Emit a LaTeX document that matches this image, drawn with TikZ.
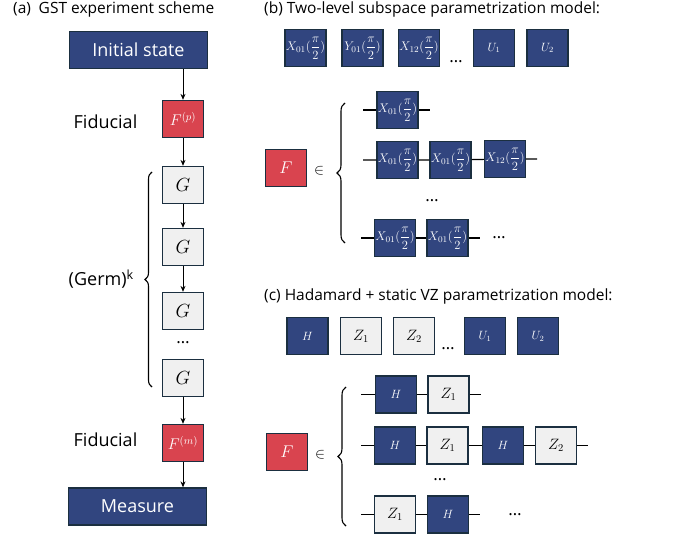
\RequirePackage{fix-cm}
\documentclass[tikz,border=0pt]{standalone}
\usepackage{amsmath}
\usepackage[no-math]{fontspec}
\setmainfont{Open Sans}
\usetikzlibrary{arrows.meta,decorations.pathreplacing}
\definecolor{navy}{HTML}{31457F}
\definecolor{gatered}{HTML}{D9444F}
\definecolor{gatelight}{HTML}{F0F0F0}
\definecolor{edgecol}{HTML}{1B2F40}
\begin{document}
\begin{tikzpicture}[x=1pt,y=-1pt,
  gate/.style={draw=edgecol, line width=1.3pt, minimum width=41pt, minimum height=37pt, inner sep=0pt, font=\fontsize{12}{13}\selectfont},
  bgate/.style={gate, fill=navy, text=white},
  lgate/.style={gate, fill=gatelight, text=black, font=\fontsize{15}{16}\selectfont},
  rgate/.style={gate, fill=gatered, text=white, font=\fontsize{17}{18}\selectfont},
  xgate/.style={bgate, font=\fontsize{12.5}{14}\selectfont},
  ggate/.style={lgate, font=\fontsize{19}{21}\selectfont},
  fgate/.style={rgate, font=\fontsize{15.5}{17}\selectfont},
  bigbox/.style={draw=edgecol, line width=1.3pt, fill=navy, text=white, minimum width=138pt, minimum height=37pt, inner sep=0pt, font=\fontsize{18}{20}\selectfont},
  wire/.style={line width=1.2pt},
  arr/.style={-{Stealth[length=6pt,width=5pt]}, line width=1pt},
  title/.style={anchor=base west, font=\fontsize{15.5}{18}\selectfont, inner sep=0pt},
  lbl/.style={font=\fontsize{18}{20}\selectfont, inner sep=0pt},
  dotsn/.style={font=\fontsize{17}{17}\selectfont, inner sep=0pt},
  brc/.style={decorate, decoration={brace, amplitude=8pt}, line width=1.1pt},
  elem/.style={font=\fontsize{15}{16}\selectfont, inner sep=0pt}
]
\useasboundingbox (0,0) rectangle (678,535);

% ---------------- panel (a)
\node[title] (ta) at (13,14) {(a)\enspace GST experiment scheme};
\node[bigbox] (init) at (138.5,50) {Initial state};
\node[fgate] (fp) at (183,119) {$F^{(p)}$};
\node[lbl] (fid1) at (105.5,122) {Fiducial};
\node[ggate] (g1) at (183,185) {$G$};
\node[ggate] (g2) at (183,247) {$G$};
\node[ggate] (g3) at (183,311) {$G$};
\node[dotsn] (gd) at (183,343) {…};
\node[ggate] (g4) at (183,378) {$G$};
\node[fgate] (fm) at (183,443) {$F^{(m)}$};
\node[lbl] (fid2) at (105.5,440) {Fiducial};
\node[bigbox] (meas) at (137.5,506.5) {Measure};
\draw[arr] (init.south -| fp) -- (fp.north);
\draw[arr] (fp) -- (g1);
\draw[arr] (g1) -- (g2);
\draw[arr] (g2) -- (g3);
\draw[arr] (g4) -- (fm);
\draw[arr] (fm) -- (meas.north -| fm);
\coordinate (bra1) at (152,387);
\coordinate (bra2) at (152,172);
\draw[brc, decoration={amplitude=7pt}] (bra1) -- (bra2);
\node[lbl, anchor=east] (germ) at (134,279) {(Germ)\textsuperscript{k}};

% ---------------- panel (b)
\node[title] (tb) at (264,14) {(b) Two-level subspace parametrization model:};
\node[xgate] (b1) at (305.5,48) {$X_{01}(\dfrac{\pi}{2})$};
\node[xgate] (b2) at (362.5,48) {$Y_{01}(\dfrac{\pi}{2})$};
\node[xgate] (b3) at (419,48) {$X_{12}(\dfrac{\pi}{2})$};
\node[dotsn] (bd) at (456,62) {…};
\node[bgate] (b4) at (494,48) {$U_1$};
\node[bgate] (b5) at (547.5,48) {$U_2$};

\node[rgate] (bF) at (286,168) {$F$};
\node[elem] (bin) at (319,171) {$\in$};
\coordinate (bb1) at (345,243);
\coordinate (bb2) at (345,103);
\draw[brc] (bb1) -- (bb2);

\coordinate (bs1) at (363,110);
\node[xgate] (bx11) at (397.5,110) {$X_{01}(\dfrac{\pi}{2})$};
\coordinate (be1) at (430,110);
\draw[wire] (bs1) -- (bx11) -- (be1);

\coordinate (bs2) at (363,160);
\node[xgate] (bx21) at (397.5,160) {$X_{01}(\dfrac{\pi}{2})$};
\node[xgate] (bx22) at (450.5,160) {$X_{01}(\dfrac{\pi}{2})$};
\node[xgate] (bx23) at (505,159) {$X_{12}(\dfrac{\pi}{2})$};
\coordinate (be2) at (537,159);
\draw[wire] (bs2) -- (bx21) -- (bx22) -- (bx23) -- (be2);

\node[dotsn] (bvd) at (432,201) {…};

\coordinate (bs3) at (361,238);
\node[xgate] (bx31) at (395,238) {$X_{01}(\dfrac{\pi}{2})$};
\node[xgate] (bx32) at (447.5,238) {$X_{01}(\dfrac{\pi}{2})$};
\coordinate (be3) at (480,238);
\draw[wire] (bs3) -- (bx31) -- (bx32) -- (be3);
\node[dotsn] (bhd) at (499,238) {…};

% ---------------- panel (c)
\node[title] (tc) at (264,300) {(c) Hadamard + static VZ parametrization model:};
\node[bgate] (c1) at (307.5,336) {$H$};
\node[lgate] (c2) at (361,336) {$Z_1$};
\node[lgate] (c3) at (414,336) {$Z_2$};
\node[dotsn] (cd) at (448,349) {…};
\node[bgate] (c4) at (485,336) {$U_1$};
\node[bgate] (c5) at (538,336) {$U_2$};

\node[rgate] (cF) at (287,452) {$F$};
\node[elem] (cin) at (320,455) {$\in$};
\coordinate (cb1) at (346,526);
\coordinate (cb2) at (346,387);
\draw[brc] (cb1) -- (cb2);

\coordinate (cs1) at (361,394.5);
\node[bgate] (ch11) at (396,394.5) {$H$};
\node[lgate] (cz11) at (448.5,394.5) {$Z_1$};
\coordinate (ce1) at (481,394.5);
\draw[wire] (cs1) -- (ch11) -- (cz11) -- (ce1);

\coordinate (cs2) at (361,445.5);
\node[bgate] (ch21) at (395,445.5) {$H$};
\node[lgate] (cz21) at (447.5,445.5) {$Z_1$};
\node[bgate] (ch22) at (503,445.5) {$H$};
\node[lgate] (cz22) at (556,445.5) {$Z_2$};
\coordinate (ce2) at (588,445.5);
\draw[wire] (cs2) -- (ch21) -- (cz21) -- (ch22) -- (cz22) -- (ce2);

\node[dotsn] (cvd) at (440,480) {…};

\coordinate (cs3) at (361,514.5);
\node[lgate] (cz31) at (395,514.5) {$Z_1$};
\node[bgate] (ch31) at (448,514.5) {$H$};
\coordinate (ce3) at (480,514.5);
\draw[wire] (cs3) -- (cz31) -- (ch31) -- (ce3);
\node[dotsn] (chd) at (515,514.5) {…};
\end{tikzpicture}
\end{document}
